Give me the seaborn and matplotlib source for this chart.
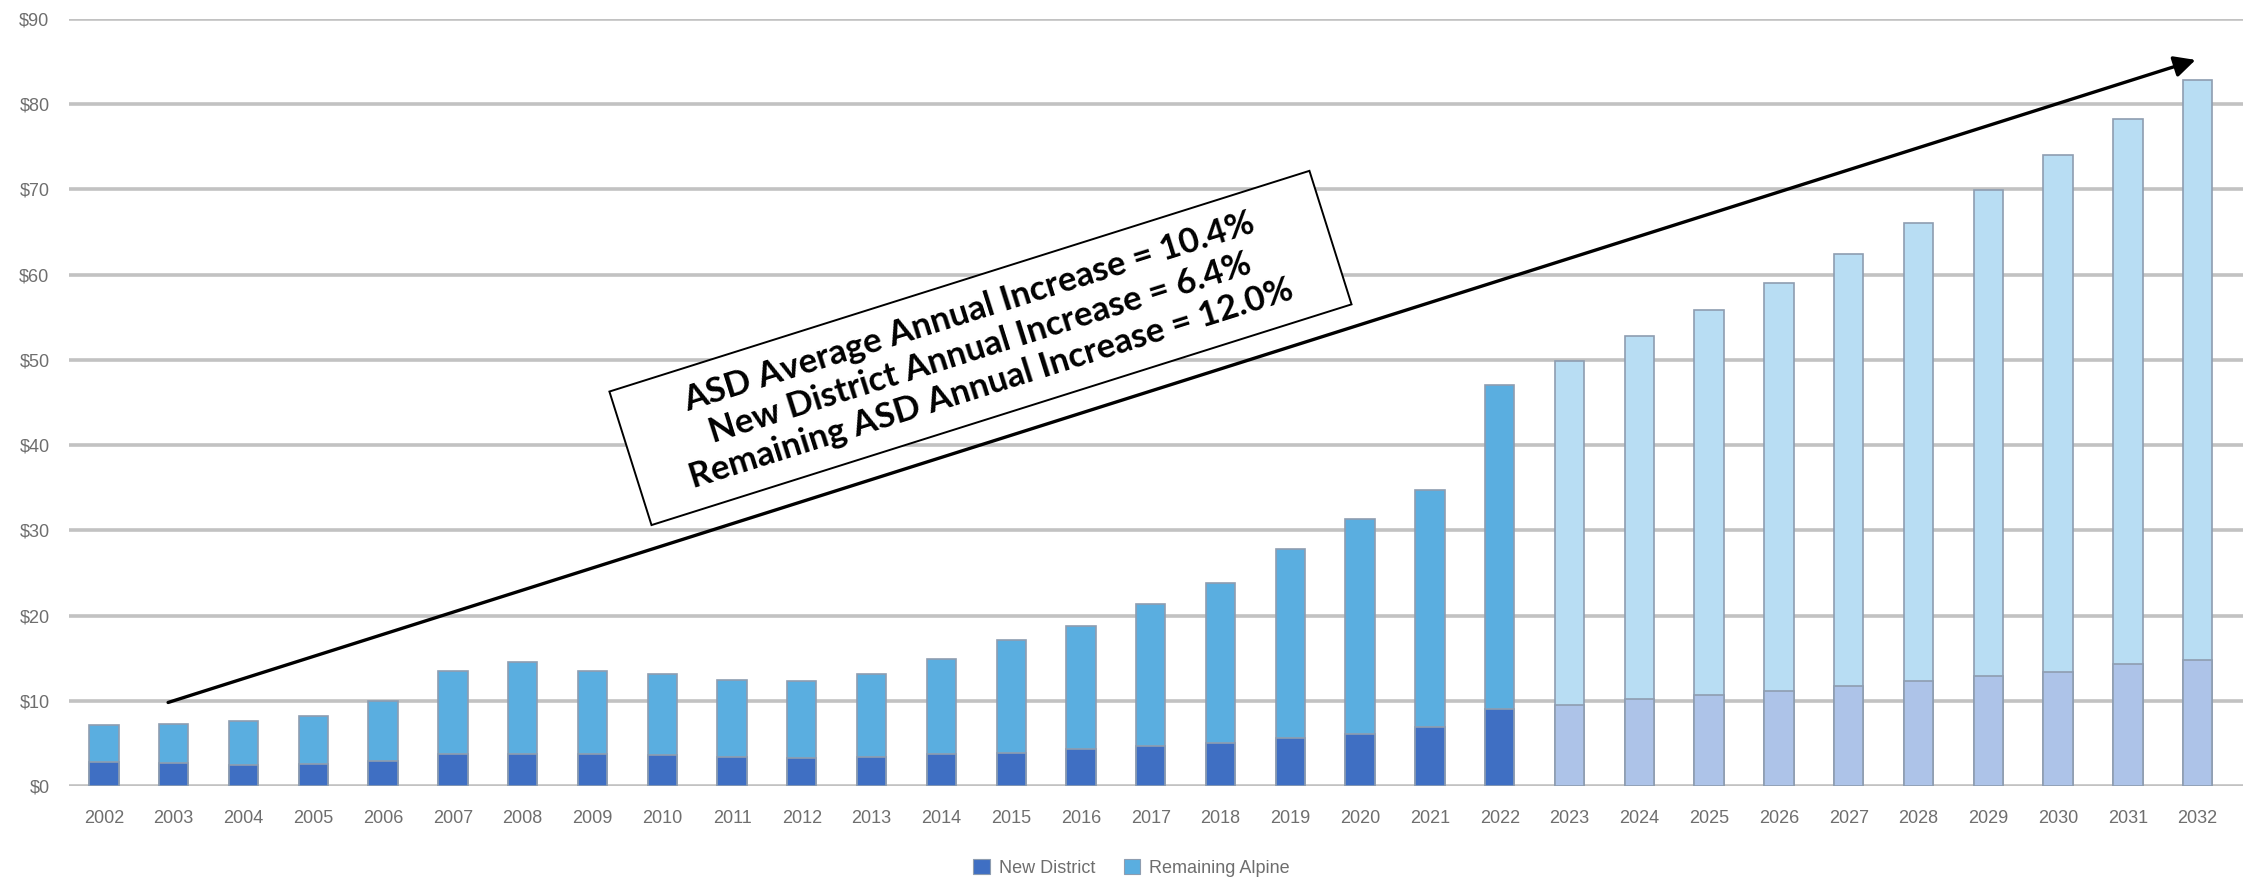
import numpy as np
import pandas as pd
import matplotlib
matplotlib.use("Agg")
import matplotlib.pyplot as plt
import matplotlib.transforms as mtransforms
from matplotlib.patches import Rectangle, Patch
import seaborn as sns

# ---------------- data ----------------
years = ["2002", "2003", "2004", "2005", "2006", "2007", "2008", "2009", "2010", "2011",
         "2012", "2013", "2014", "2015", "2016", "2017", "2018", "2019", "2020", "2021",
         "2022", "2023", "2024", "2025", "2026", "2027", "2028", "2029", "2030", "2031",
         "2032"]
new_district = [2.8, 2.7, 2.5, 2.6, 2.9, 3.7, 3.8, 3.7, 3.6, 3.4,
                3.3, 3.4, 3.8, 3.9, 4.3, 4.7, 5.1, 5.6, 6.1, 6.9,
                9.0, 9.5, 10.2, 10.7, 11.2, 11.7, 12.3, 12.9, 13.4, 14.3,
                14.8]
remaining_alpine = [4.4, 4.6, 5.1, 5.6, 7.1, 9.8, 10.8, 9.8, 9.6, 9.0,
                    9.0, 9.7, 11.1, 13.2, 14.5, 16.6, 18.7, 22.2, 25.2, 27.8,
                    38.1, 40.4, 42.6, 45.1, 47.8, 50.7, 53.8, 57.0, 60.6, 64.0,
                    68.0]
first_projected_year = "2023"
y_ticks = [0, 10, 20, 30, 40, 50, 60, 70, 80, 90]
y_tick_labels = ["$0", "$10", "$20", "$30", "$40", "$50", "$60", "$70", "$80", "$90"]
series_names = ["New District", "Remaining Alpine"]
annotation_lines = ["ASD Average Annual Increase = 10.4%",
                    "New District Annual Increase = 6.4%",
                    "Remaining ASD Annual Increase = 12.0%"]

# ---------------- styling ----------------
C_NEW = "#3f6fc3"
C_REM = "#5aaee0"
C_NEW_PROJ = "#adc3e8"
C_REM_PROJ = "#b8ddf3"
EDGE = "#8e9db0"
GRID = "#c2c2c2"
TICK = "#6e6e6e"

df = pd.DataFrame({"year": years, "new": new_district, "rem": remaining_alpine})
df["total"] = df["new"] + df["rem"]
proj = [y >= first_projected_year for y in years]
pal_total = {y: (C_REM_PROJ if p else C_REM) for y, p in zip(years, proj)}
pal_new = {y: (C_NEW_PROJ if p else C_NEW) for y, p in zip(years, proj)}

sns.set_theme(style="white")
plt.rcParams["font.family"] = ["Liberation Sans", "DejaVu Sans"]

W, H = 2254, 882
fig = plt.figure(figsize=(W / 100, H / 100), dpi=100)
ax = fig.add_axes([69 / W, 1 - 786 / H, 2174 / W, 767 / H])

for yv in y_ticks:
    ax.axhline(yv, color=GRID, lw=2.6, zorder=0)

bw = 0.42
sns.barplot(data=df, x="year", y="total", hue="year", palette=pal_total, legend=False,
            width=bw, saturation=1, edgecolor=EDGE, linewidth=1.2, ax=ax, zorder=2)
sns.barplot(data=df, x="year", y="new", hue="year", palette=pal_new, legend=False,
            width=bw, saturation=1, edgecolor=EDGE, linewidth=1.2, ax=ax, zorder=3)

ax.set_xlim(-0.5, 30.65)
ax.set_ylim(0, 90)
ax.set_yticks(y_ticks)
ax.set_yticklabels(y_tick_labels)
ax.set_xlabel("")
ax.set_ylabel("")
for s in ax.spines.values():
    s.set_visible(False)
ax.tick_params(axis="both", length=0, labelsize=13, labelcolor=TICK)
ax.tick_params(axis="x", pad=17)
ax.tick_params(axis="y", pad=14)
ax.grid(False)

# arrow
ax.annotate("", xy=(29.97, 85.2), xytext=(0.92, 9.8),
            arrowprops=dict(arrowstyle="-|>", lw=2.4, color="black",
                            mutation_scale=32, shrinkA=0, shrinkB=0),
            zorder=5)

# rotated text box
angle = 17.5
cx, cy = 12.56, 51.4
bw_px, bh_px = 734, 140
trans = mtransforms.Affine2D().rotate_deg(angle) + mtransforms.ScaledTranslation(cx, cy, ax.transData)
rect = Rectangle((-bw_px / 2, -bh_px / 2), bw_px, bh_px, transform=trans,
                 facecolor="white", edgecolor="black", lw=1.4, zorder=6, clip_on=False)
ax.add_patch(rect)
ax.text(cx, cy, "\n".join(annotation_lines), rotation=angle, rotation_mode="anchor",
        ha="center", va="center", multialignment="center", fontsize=25,
        fontweight="bold", family=["Lato", "DejaVu Sans"], linespacing=1.2,
        color="black", zorder=7)

# legend
handles = [Patch(facecolor=C_NEW, edgecolor=EDGE, lw=0.8),
           Patch(facecolor=C_REM, edgecolor=EDGE, lw=0.8)]
fig.legend(handles, series_names, loc="center", bbox_to_anchor=(0.502, 1 - 868 / H),
           ncol=2, frameon=False, fontsize=13, labelcolor=TICK,
           handlelength=0.9, handleheight=0.9, handletextpad=0.5, columnspacing=1.6)

fig.savefig("out.png", dpi=100, facecolor="white")
